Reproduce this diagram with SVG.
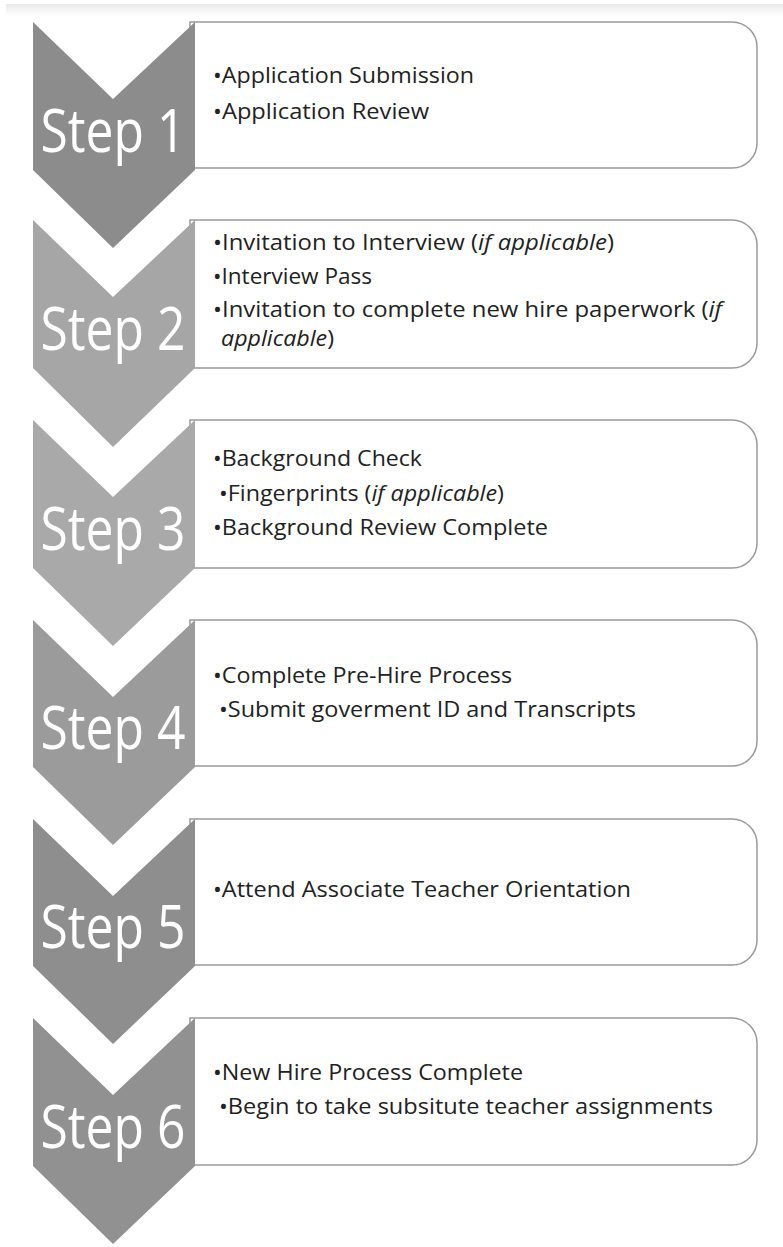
<svg xmlns="http://www.w3.org/2000/svg" width="783" height="1247" viewBox="0 0 783 1247">
<defs>
<linearGradient id="band" x1="0" y1="0" x2="0" y2="1">
<stop offset="0" stop-color="#e9e9e9"/>
<stop offset="1" stop-color="#ffffff"/>
</linearGradient>
</defs>
<style>
.box{fill:#fff;stroke:#999;stroke-width:1.5}
.step{font-family:"Open Sans","Liberation Sans",sans-serif;font-size:60px;fill:#fff;text-anchor:middle}
.t{font-family:"Open Sans","Liberation Sans",sans-serif;font-size:22px;fill:#222}
.i{font-style:italic}
</style>
<rect x="0" y="0" width="783" height="1247" fill="#fff"/>
<rect x="6" y="4" width="777" height="12" fill="url(#band)"/>
<g id="step1">
<path class="box" d="M190,22 H732 A25,25 0 0 1 757,47 V143 A25,25 0 0 1 732,168 H190 Z"/>
<path d="M33,22 L113,99 L195,22 L195,170 L113,248 L33,170 Z" fill="#8c8c8c"/>
<text class="step" x="113" y="152" textLength="145" lengthAdjust="spacingAndGlyphs">Step 1</text>
<text class="t" x="213" y="83" textLength="261" lengthAdjust="spacingAndGlyphs">•Application Submission</text>
<text class="t" x="213" y="119" textLength="216" lengthAdjust="spacingAndGlyphs">•Application Review</text>
</g>
<g id="step2">
<path class="box" d="M190,220 H732 A25,25 0 0 1 757,245 V343 A25,25 0 0 1 732,368 H190 Z"/>
<path d="M33,220 L113,297 L195,220 L195,368 L113,447 L33,368 Z" fill="#a6a6a6"/>
<text class="step" x="113" y="350" textLength="145" lengthAdjust="spacingAndGlyphs">Step 2</text>
<text class="t" x="213" y="250" textLength="401" lengthAdjust="spacingAndGlyphs">•Invitation to Interview (<tspan class="i">if applicable</tspan>)</text>
<text class="t" x="213" y="284" textLength="159" lengthAdjust="spacingAndGlyphs">•Interview Pass</text>
<text class="t" x="213" y="317" textLength="509" lengthAdjust="spacingAndGlyphs">•Invitation to complete new hire paperwork (<tspan class="i">if</tspan></text>
<text class="t" x="221" y="346" font-size="21" textLength="113" lengthAdjust="spacingAndGlyphs"><tspan class="i">applicable</tspan>)</text>
</g>
<g id="step3">
<path class="box" d="M190,420 H732 A25,25 0 0 1 757,445 V543 A25,25 0 0 1 732,568 H190 Z"/>
<path d="M33,420 L113,497 L195,420 L195,568 L113,646 L33,568 Z" fill="#a9a9a9"/>
<text class="step" x="113" y="550" textLength="145" lengthAdjust="spacingAndGlyphs">Step 3</text>
<text class="t" x="213" y="466" textLength="209" lengthAdjust="spacingAndGlyphs">•Background Check</text>
<text class="t" x="219" y="501" textLength="285" lengthAdjust="spacingAndGlyphs">•Fingerprints (<tspan class="i">if applicable</tspan>)</text>
<text class="t" x="213" y="535" textLength="335" lengthAdjust="spacingAndGlyphs">•Background Review Complete</text>
</g>
<g id="step4">
<path class="box" d="M190,620 H732 A25,25 0 0 1 757,645 V741 A25,25 0 0 1 732,766 H190 Z"/>
<path d="M33,620 L113,697 L195,620 L195,767 L113,845 L33,767 Z" fill="#9b9b9b"/>
<text class="step" x="113" y="749" textLength="145" lengthAdjust="spacingAndGlyphs">Step 4</text>
<text class="t" x="213" y="683" textLength="299" lengthAdjust="spacingAndGlyphs">•Complete Pre-Hire Process</text>
<text class="t" x="219" y="717" textLength="417" lengthAdjust="spacingAndGlyphs">•Submit goverment ID and Transcripts</text>
</g>
<g id="step5">
<path class="box" d="M190,819 H732 A25,25 0 0 1 757,844 V940 A25,25 0 0 1 732,965 H190 Z"/>
<path d="M33,819 L113,896 L195,819 L195,966 L113,1044 L33,966 Z" fill="#8e8e8e"/>
<text class="step" x="113" y="948" textLength="145" lengthAdjust="spacingAndGlyphs">Step 5</text>
<text class="t" x="213" y="897" textLength="418" lengthAdjust="spacingAndGlyphs">•Attend Associate Teacher Orientation</text>
</g>
<g id="step6">
<path class="box" d="M190,1018 H732 A25,25 0 0 1 757,1043 V1140 A25,25 0 0 1 732,1165 H190 Z"/>
<path d="M33,1018 L113,1095 L195,1018 L195,1166 L113,1244 L33,1166 Z" fill="#919191"/>
<text class="step" x="113" y="1148" textLength="145" lengthAdjust="spacingAndGlyphs">Step 6</text>
<text class="t" x="213" y="1080" textLength="310" lengthAdjust="spacingAndGlyphs">•New Hire Process Complete</text>
<text class="t" x="219" y="1114" textLength="494" lengthAdjust="spacingAndGlyphs">•Begin to take subsitute teacher assignments</text>
</g>
<g id="connectors"></g>
</svg>
